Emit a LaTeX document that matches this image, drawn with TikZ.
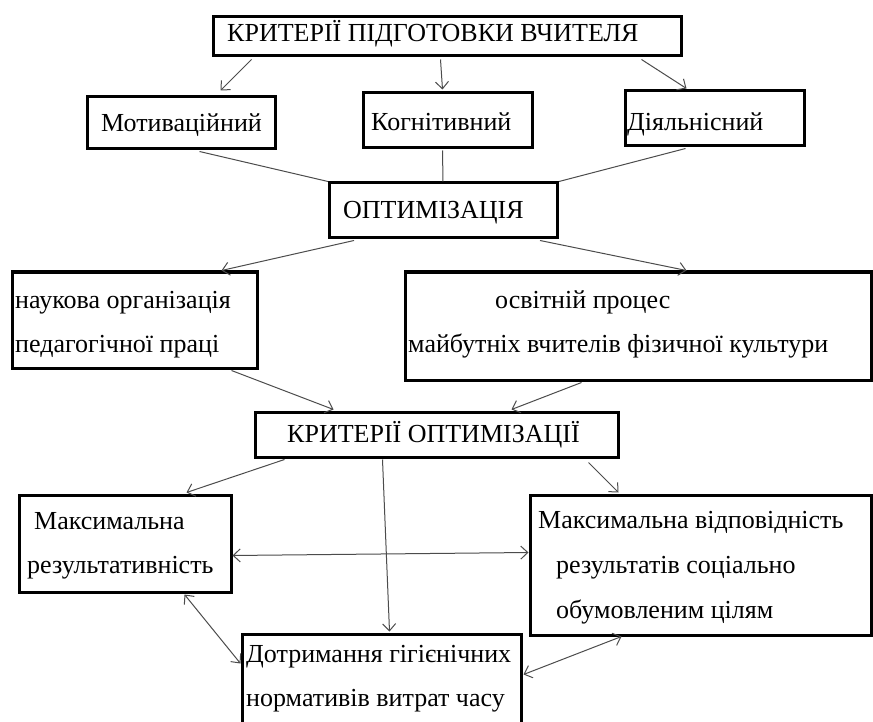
\documentclass[tikz,border=0pt]{standalone}
\usepackage{fontspec}
\setmainfont{Liberation Serif}
\usetikzlibrary{arrows.meta,calc}
\begin{document}
\begin{tikzpicture}[x=1pt,y=-1pt,
  box/.style={draw=black,line width=3pt,rectangle,inner sep=0pt,fill=none},
  txt/.style={anchor=base west,inner sep=0pt,font=\fontsize{26}{30}\selectfont},
  ln/.style={draw=black!70,line width=1pt},
  arr/.style={ln,-{Straight Barb[length=7pt,width=13pt]}},
  darr/.style={ln,{Straight Barb[length=7pt,width=13pt]}-{Straight Barb[length=7pt,width=13pt]}}]
\fill[white] (0,0) rectangle (873,722);
\clip (0,0) rectangle (873,722);
% boxes
\node[box,minimum width=468pt,minimum height=39pt] (top) at (447,36.5) {};
\node[box,minimum width=188pt,minimum height=52pt] (motiv) at (181,123) {};
\node[box,minimum width=169pt,minimum height=55pt] (kogn) at (447.5,120.5) {};
\node[box,minimum width=179pt,minimum height=55pt] (diyal) at (714.5,118.5) {};
\node[box,minimum width=228pt,minimum height=55pt] (optim) at (443.5,210.5) {};
\node[box,minimum width=245pt,minimum height=96pt] (nauk) at (134.5,320) {};
\node[box,minimum width=466pt,minimum height=108pt] (osvit) at (638,326) {};
\node[box,minimum width=363pt,minimum height=45pt] (kropt) at (436.5,434.5) {};
\node[box,minimum width=212pt,minimum height=97pt] (maxres) at (125,543.5) {};
\node[box,minimum width=341pt,minimum height=140pt] (maxvid) at (700.5,565) {};
\node[box,minimum width=279pt,minimum height=110pt] (dotr) at (381.5,689) {};
% texts
\node[txt] (t1) at (227,42) {КРИТЕРІЇ ПІДГОТОВКИ ВЧИТЕЛЯ};
\node[txt] (t2) at (101,132) {Мотиваційний};
\node[txt] (t3) at (371,131) {Когнітивний};
\node[txt] (t4) at (627,131) {Діяльнісний};
\node[txt] (t5) at (343,219) {ОПТИМІЗАЦІЯ};
\node[txt] (t6a) at (15,308) {наукова організація};
\node[txt] (t6b) at (15,352) {педагогічної праці};
\node[txt] (t7a) at (495,308) {освітній процес};
\node[txt] (t7b) at (408,352) {майбутніх вчителів фізичної культури};
\node[txt] (t8) at (287,442) {КРИТЕРІЇ ОПТИМІЗАЦІЇ};
\node[txt] (t9a) at (34,529) {Максимальна};
\node[txt] (t9b) at (27,573) {результативність};
\node[txt] (t10a) at (538,528) {Максимальна відповідність};
\node[txt] (t10b) at (556,573) {результатів соціально};
\node[txt] (t10c) at (556,618) {обумовленим цілям};
\node[txt] (t11a) at (246,662) {Дотримання гігієнічних};
\node[txt] (t11b) at (246,706) {нормативів витрат часу};
% connectors
\draw[arr] ($(top.south west)+(40,2)$) -- ($(motiv.north west)+(135,-5)$);
\draw[arr] ($(top.south west)+(229,2)$) -- ($(kogn.north west)+(81,-2)$);
\draw[arr] ($(top.south west)+(430,2)$) -- ($(diyal.north west)+(63,-1)$);
\draw[ln] ($(motiv.south west)+(114,1)$) -- (optim.north west);
\draw[ln] ($(kogn.south west)+(81,1)$) -- ($(optim.north west)+(115,0)$);
\draw[ln] ($(diyal.south west)+(62,1)$) -- (optim.north east);
\draw[arr] ($(optim.south west)+(26,1)$) -- ($(nauk.north west)+(211,0)$);
\draw[arr] ($(optim.south west)+(212,1)$) -- ($(osvit.north west)+(283,0)$);
\draw[arr] ($(nauk.south west)+(221,1)$) -- ($(kropt.north west)+(80,-1)$);
\draw[arr] ($(osvit.south west)+(178,1)$) -- ($(kropt.north west)+(258,-1)$);
\draw[arr] ($(kropt.south west)+(31,1)$) -- ($(maxres.north west)+(169,-1)$);
\draw[arr] ($(kropt.south west)+(129,1)$) -- ($(dotr.north west)+(149,-1)$);
\draw[arr] ($(kropt.south west)+(335,4)$) -- ($(maxvid.north west)+(90,-1)$);
\draw[darr] ($(maxres.south east)+(0,-38)$) -- ($(maxvid.north west)+(0,59)$);
\draw[darr] ($(maxres.south east)+(-48,1)$) -- ($(dotr.north west)+(0,31)$);
\draw[darr] ($(maxvid.south west)+(93,0)$) -- ($(dotr.north east)+(1,42)$);
\end{tikzpicture}
\end{document}
